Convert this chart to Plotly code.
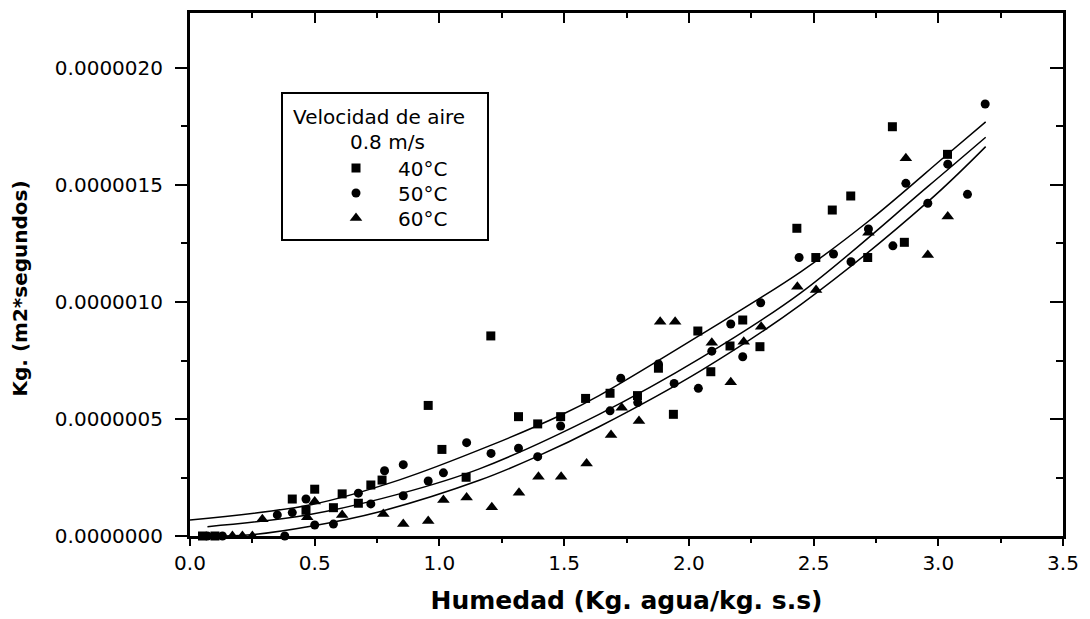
import numpy as np
import plotly.graph_objects as go

# ---- data (y values in units of 1e-6) ----
x40 = [0.05, 0.10, 0.41, 0.465, 0.50, 0.575, 0.61, 0.675, 0.725, 0.77, 0.955, 1.01, 1.107, 1.206,
       1.317, 1.394, 1.486, 1.586, 1.684, 1.794, 1.878, 1.938, 2.036, 2.088, 2.165, 2.216, 2.285,
       2.433, 2.509, 2.575, 2.649, 2.717, 2.816, 2.864, 3.037]
y40 = [0.0, 0.0, 0.158, 0.11, 0.20, 0.121, 0.18, 0.14, 0.218, 0.239, 0.558, 0.37, 0.251, 0.855,
       0.51, 0.479, 0.51, 0.588, 0.61, 0.60, 0.717, 0.52, 0.876, 0.702, 0.812, 0.923, 0.809,
       1.315, 1.19, 1.393, 1.453, 1.19, 1.749, 1.255, 1.631]

x50 = [0.07, 0.13, 0.35, 0.38, 0.41, 0.465, 0.50, 0.575, 0.675, 0.725, 0.78, 0.855, 0.855, 0.955,
       1.016, 1.109, 1.207, 1.317, 1.394, 1.486, 1.684, 1.727, 1.795, 1.878, 1.941, 2.038, 2.092,
       2.168, 2.216, 2.288, 2.442, 2.58, 2.65, 2.72, 2.818, 2.87, 2.958, 3.038, 3.117, 3.188]
y50 = [0.0, 0.0, 0.09, 0.0, 0.10, 0.158, 0.047, 0.051, 0.183, 0.137, 0.279, 0.305, 0.172, 0.235,
       0.27, 0.399, 0.353, 0.375, 0.339, 0.47, 0.535, 0.674, 0.57, 0.735, 0.652, 0.631, 0.79,
       0.906, 0.766, 0.997, 1.19, 1.205, 1.172, 1.312, 1.24, 1.507, 1.422, 1.589, 1.46, 1.846]

x60 = [0.17, 0.21, 0.25, 0.29, 0.47, 0.50, 0.61, 0.775, 0.855, 0.955, 1.016, 1.109, 1.21, 1.319,
       1.397, 1.488, 1.59, 1.688, 1.731, 1.80, 1.885, 1.945, 2.092, 2.168, 2.22, 2.29, 2.435,
       2.51, 2.72, 2.87, 2.958, 3.038]
y60 = [0.0, 0.0, 0.0, 0.072, 0.08, 0.147, 0.09, 0.094, 0.051, 0.064, 0.154, 0.164, 0.123, 0.185,
       0.253, 0.253, 0.31, 0.432, 0.548, 0.491, 0.916, 0.916, 0.826, 0.657, 0.83, 0.894, 1.065,
       1.051, 1.296, 1.614, 1.201, 1.365]

# fitted curves
fit40_x = [0.0, 0.49, 0.84, 1.2, 1.49, 1.64, 2.05, 2.45, 2.72, 3.03, 3.19]
fit40_y = [0.068, 0.135, 0.24, 0.385, 0.518, 0.60, 0.862, 1.13, 1.345, 1.625, 1.77]
fit50_x = [0.07, 0.47, 0.84, 1.16, 1.64, 2.05, 2.45, 2.96, 3.19]
fit50_y = [0.04, 0.09, 0.18, 0.287, 0.52, 0.762, 1.04, 1.495, 1.704]
fit60_x = [0.05, 0.23, 0.49, 0.76, 1.16, 1.39, 1.64, 2.05, 2.45, 2.96, 3.19]
fit60_y = [0.0, 0.004, 0.043, 0.104, 0.238, 0.339, 0.467, 0.708, 0.99, 1.43, 1.664]

names = ["40°C", "50°C", "60°C"]
legend_title = ["Velocidad de aire", "0.8 m/s"]
xtick_vals = [0.0, 0.5, 1.0, 1.5, 2.0, 2.5, 3.0, 3.5]

SCALE = 1e-6
FONT = "DejaVu Sans"
OFF = 8                      # default page margin of the html body
W, H = 1090 - OFF, 619 - OFF
X0, X1, Y0, Y1 = 190, 1063, 13, 536   # plot frame in page pixels
ML, MR, MT, MB = X0 - OFF, 1090 - X1, Y0 - OFF, 619 - Y1
PW, PH = X1 - X0, Y1 - Y0


def px(xp):  # page pixel -> paper x
    return (xp - X0) / PW


def py(yp):  # page pixel -> paper y
    return (Y1 - yp) / PH


fig = go.Figure()
legend_rows = [168, 193, 218]
for i, (xs, ys, sym, sz) in enumerate([(x40, y40, "square", 9),
                                       (x50, y50, "circle", 9),
                                       (x60, y60, "triangle-up", 11)]):
    fig.add_trace(go.Scatter(x=xs, y=np.array(ys) * SCALE, mode="markers", name=names[i],
                             marker=dict(symbol=sym, size=sz, color="black"),
                             cliponaxis=False, legend="legend" if i == 0 else f"legend{i+1}"))
for xs, ys in [(fit40_x, fit40_y), (fit50_x, fit50_y), (fit60_x, fit60_y)]:
    fig.add_trace(go.Scatter(x=xs, y=np.array(ys) * SCALE, mode="lines", showlegend=False,
                             line=dict(color="black", width=1.5, shape="spline"),
                             cliponaxis=False, hoverinfo="skip"))
# empty trace so the mirrored (top/right) frame axes are drawn
fig.add_trace(go.Scatter(x=[], y=[], xaxis="x2", yaxis="y2", showlegend=False,
                         hoverinfo="skip"))

xr = [0, 3.5]
yr = [0, 2.235 * SCALE]
tickfont = dict(family=FONT, size=20, color="black")


def leg(row):
    return dict(x=px(314), y=py(row), xanchor="left", yanchor="middle",
                borderwidth=0, bgcolor="rgba(0,0,0,0)",
                font=dict(family=FONT, size=20, color="black"), itemwidth=74)


fig.update_layout(
    width=W, height=H,
    margin=dict(l=ML, r=MR, t=MT, b=MB),
    paper_bgcolor="white", plot_bgcolor="white",
    xaxis=dict(range=xr, tickvals=xtick_vals, tickformat=".1f", ticks="outside", ticklen=7,
               tickwidth=2, tickcolor="black", showline=True, linewidth=3, linecolor="black",
               showgrid=False, zeroline=False, tickfont=tickfont,
               minor=dict(ticks="outside", ticklen=4, dtick=0.25, tickwidth=2, tickcolor="black",
                          showgrid=False),
               title=dict(text="Humedad (Kg. agua/kg. s.s)", standoff=18,
                          font=dict(family=FONT, size=25, color="black", weight="bold"))),
    yaxis=dict(range=yr, dtick=0.5 * SCALE, tick0=0, tickformat=".7f", ticks="outside", ticklen=12,
               tickwidth=2, tickcolor="black", showline=True, linewidth=3, linecolor="black",
               showgrid=False, zeroline=False, tickfont=tickfont, ticklabelstandoff=8,
               minor=dict(ticks="outside", ticklen=6, dtick=0.25 * SCALE, tickwidth=2,
                          tickcolor="black", showgrid=False),
               title=dict(text="Kg. (m2*segundos)&nbsp;&nbsp;&nbsp;&nbsp;", standoff=22,
                          font=dict(family=FONT, size=20, color="black", weight="bold"))),
    xaxis2=dict(range=xr, overlaying="x", side="top", showticklabels=False, ticks="inside",
                ticklen=10, tickwidth=2, tickcolor="black", dtick=0.5, tick0=0,
                showline=True, linewidth=3, linecolor="black", showgrid=False, zeroline=False,
                minor=dict(ticks="inside", ticklen=5, dtick=0.25, tickwidth=2, tickcolor="black")),
    yaxis2=dict(range=yr, overlaying="y", side="right", showticklabels=False, ticks="inside",
                ticklen=13, tickwidth=2, tickcolor="black", dtick=0.5 * SCALE, tick0=0,
                showline=True, linewidth=3, linecolor="black", showgrid=False, zeroline=False,
                minor=dict(ticks="inside", ticklen=7, dtick=0.25 * SCALE, tickwidth=2,
                           tickcolor="black")),
    legend=leg(legend_rows[0]),
    legend2=leg(legend_rows[1]),
    legend3=leg(legend_rows[2]),
    showlegend=True,
    shapes=[dict(type="rect", xref="paper", yref="paper", x0=px(282), x1=px(488),
                 y0=py(240), y1=py(93), line=dict(color="black", width=2),
                 fillcolor="white", layer="below")],
    annotations=[
        dict(text=legend_title[0], xref="paper", yref="paper", x=px(291), y=py(117),
             xanchor="left", yanchor="middle", showarrow=False,
             font=dict(family=FONT, size=20, color="black")),
        dict(text=legend_title[1], xref="paper", yref="paper", x=px(387), y=py(142),
             xanchor="center", yanchor="middle", showarrow=False,
             font=dict(family=FONT, size=20, color="black")),
    ],
)

fig.write_html("out.html")
